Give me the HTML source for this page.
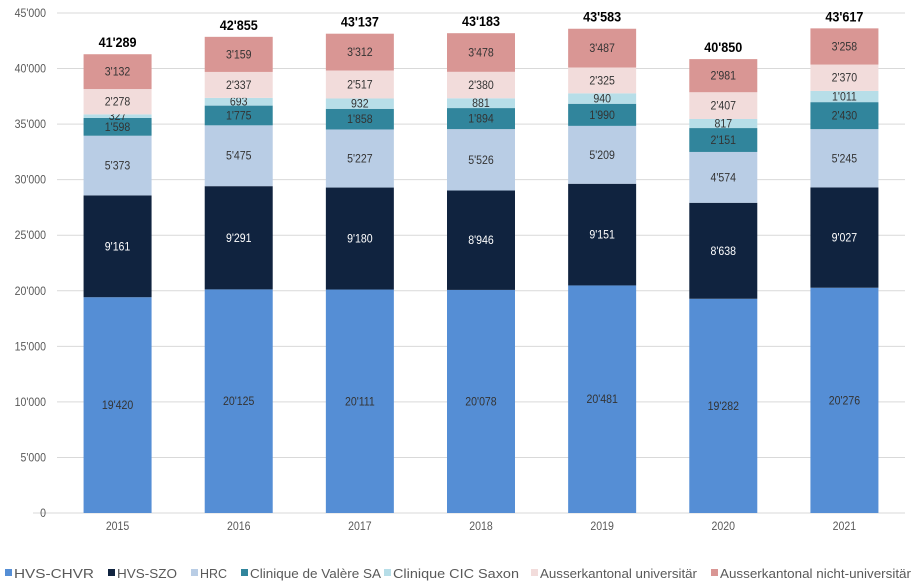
<!DOCTYPE html>
<html><head><meta charset="utf-8"><style>
body{margin:0;background:#fff}
svg{font-family:"Liberation Sans",sans-serif;display:block}
</style></head><body>
<svg id="c" width="916" height="585"></svg>
<script>
const categories=["2015","2016","2017","2018","2019","2020","2021"];
const seriesNames=["HVS-CHVR","HVS-SZO","HRC","Clinique de Valère SA","Clinique CIC Saxon","Ausserkantonal universitär","Ausserkantonal nicht-universitär"];
const chvr=[19420,20125,20111,20078,20481,19282,20276];
const szo=[9161,9291,9180,8946,9151,8638,9027];
const hrc=[5373,5475,5227,5526,5209,4574,5245];
const valere=[1598,1775,1858,1894,1990,2151,2430];
const saxon=[327,693,932,881,940,817,1011];
const univ=[2278,2337,2517,2380,2325,2407,2370];
const nonUniv=[3132,3159,3312,3478,3487,2981,3258];
const yTicks=[0,5000,10000,15000,20000,25000,30000,35000,40000,45000];
const series=[chvr,szo,hrc,valere,saxon,univ,nonUniv];
const colors=["#558ed5","#10233f","#b9cde5","#31859c","#b7dee8","#f2dcdb","#d99694"];
const textCol=["#333","#fff","#333","#333","#333","#333","#333"];
const NS="http://www.w3.org/2000/svg";
const svg=document.getElementById('c');
const x0=57,x1=905,y0=513,y1=13,yMax=45000;
const y=v=>y0-(v/yMax)*(y0-y1);
const band=(x1-x0)/categories.length;
const xc=i=>x0+band*(i+0.5);
const bw=68;
const fmt=v=>String(v).replace(/\B(?=(\d{3})+(?!\d))/g,"'");
function mk(t,a,txt){const e=document.createElementNS(NS,t);for(const k in a)e.setAttribute(k,a[k]);if(txt!=null)e.textContent=txt;svg.appendChild(e);return e;}
yTicks.forEach(t=>{
  const g=mk('line',{x1:t===0?33:x0,x2:x1,y1:y(t),y2:y(t),stroke:'#d9d9d9','stroke-width':1});
  
  
  const l=mk('text',{x:46,y:y(t)+4,'text-anchor':'end','font-size':12,fill:'#595959',transform:`translate(46,0) scale(0.88,1) translate(-46,0)`},fmt(t));
  
  
});
categories.forEach((c,i)=>{
  let acc=0;
  series.forEach((s,k)=>{
    const v=s[i];
    const r=mk('rect',{x:xc(i)-bw/2,y:y(acc+v),width:bw,height:y(acc)-y(acc+v),fill:colors[k]});
    
    
    const t=mk('text',{x:xc(i),y:(y(acc)+y(acc+v))/2+4,'text-anchor':'middle','font-size':12,fill:textCol[k],transform:`translate(${xc(i)},0) scale(0.88,1) translate(${-xc(i)},0)`},fmt(v));
    
    
    acc+=v;
  });
  const tot=mk('text',{x:xc(i),y:y(acc)-7,'text-anchor':'middle','font-size':14,'font-weight':'bold',fill:'#000',transform:`translate(${xc(i)},0) scale(0.9,1) translate(${-xc(i)},0)`},fmt(acc));
  
  
  const xl=mk('text',{x:xc(i),y:530,'text-anchor':'middle','font-size':12,fill:'#595959',transform:`translate(${xc(i)},0) scale(0.88,1) translate(${-xc(i)},0)`},c);
  
  
});
// legend
const legX=[5,108,191,241,384,531,711];
const legW=[80,60,27,131,126,157,191];
seriesNames.forEach((n,k)=>{
  const r=mk('rect',{x:legX[k],y:569,width:7,height:7,fill:colors[k]});
  
  
  const t=mk('text',{x:legX[k]+9,y:578,'font-size':13,fill:'#595959',textLength:legW[k],lengthAdjust:'spacingAndGlyphs'},n);
  
  
});
</script>
</body></html>
